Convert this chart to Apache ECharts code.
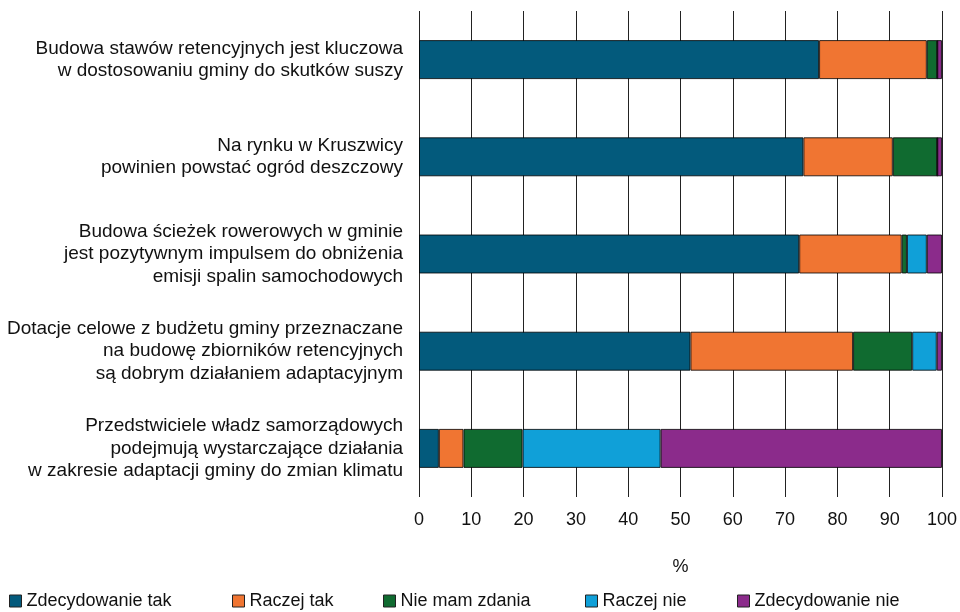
<!DOCTYPE html>
<html>
<head>
<meta charset="utf-8">
<script src="https://cdn.jsdelivr.net/npm/echarts@6/dist/echarts.min.js"></script>
<style>
html,body{margin:0;padding:0;background:#fff;}
#chart{width:960px;height:612px;}
</style>
</head>
<body>
<div id="chart"></div>
<script>
const categories = [
  "Budowa stawów retencyjnych jest kluczowa\nw dostosowaniu gminy do skutków suszy",
  "Na rynku w Kruszwicy\npowinien powstać ogród deszczowy",
  "Budowa ścieżek rowerowych w gminie\njest pozytywnym impulsem do obniżenia\nemisji spalin samochodowych",
  "Dotacje celowe z budżetu gminy przeznaczane\nna budowę zbiorników retencyjnych\nsą dobrym działaniem adaptacyjnym",
  "Przedstwiciele władz samorządowych\npodejmują wystarczające działania\nw zakresie adaptacji gminy do zmian klimatu"
];
const seriesNames = ["Zdecydowanie tak", "Raczej tak", "Nie mam zdania", "Raczej nie", "Zdecydowanie nie"];
const zdecydowanieTak = [76.5, 73.5, 72.7, 51.9, 3.8];
const raczejTak = [20.6, 17.1, 19.6, 31.1, 4.7];
const nieMamZdania = [2.0, 8.5, 1.0, 11.3, 11.3];
const raczejNie = [0, 0, 3.8, 4.7, 26.4];
const zdecydowanieNie = [0.9, 0.9, 2.9, 1.0, 53.8];
const axisName = "%";

const values = [zdecydowanieTak, raczejTak, nieMamZdania, raczejNie, zdecydowanieNie];
const colors = ["#035a7c", "#f07532", "#106b30", "#10a0d8", "#8b2b8b"];
const legendLeft = [9, 232, 383, 585, 737];
const font = "Liberation Sans, Arial, sans-serif";

const chart = echarts.init(document.getElementById('chart'), null, {renderer: 'canvas'});
chart.setOption({
  animation: false,
  backgroundColor: '#fff',
  grid: {left: 419, right: 16, top: 11, bottom: 115, containLabel: false},
  legend: seriesNames.map((n, i) => ({
    data: [n],
    left: legendLeft[i],
    top: 592,
    icon: 'rect',
    itemWidth: 12,
    itemHeight: 12,
    itemGap: 4,
    padding: 0,
    textStyle: {fontFamily: font, fontSize: 18, color: '#111', padding: [0, 0, 0, 0]},
    itemStyle: {borderColor: '#222', borderWidth: 1}
  })),
  xAxis: {
    type: 'value',
    min: 0, max: 100, interval: 10,
    name: axisName,
    nameLocation: 'middle',
    nameGap: 61,
    nameTextStyle: {fontFamily: font, fontSize: 18, color: '#111'},
    axisLine: {show: false},
    axisTick: {show: false},
    axisLabel: {fontFamily: font, fontSize: 18, color: '#111', margin: 14},
    splitLine: {show: true, lineStyle: {color: '#222', width: 1}}
  },
  yAxis: {
    type: 'category',
    inverse: true,
    data: categories,
    axisLine: {show: false},
    axisTick: {show: false},
    axisLabel: {fontFamily: font, fontSize: 19, color: '#111', margin: 16, lineHeight: 22.5, align: 'right'},
    splitLine: {show: false}
  },
  series: seriesNames.map((n, i) => ({
    name: n,
    type: 'bar',
    stack: 'total',
    barWidth: 39,
    data: values[i],
    itemStyle: {color: colors[i], borderColor: 'rgba(0,0,0,0.8)', borderWidth: 1}
  }))
});
</script>
</body>
</html>
